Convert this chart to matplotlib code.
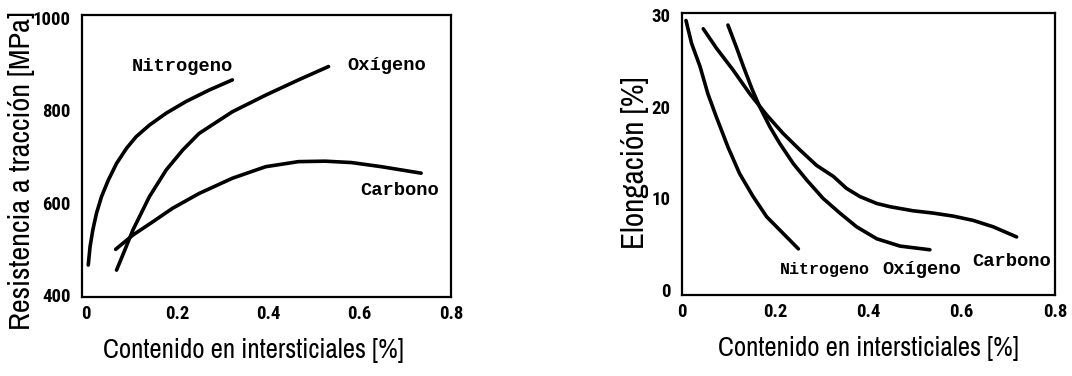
import matplotlib
matplotlib.use("Agg")
import matplotlib.pyplot as plt
from matplotlib import font_manager

# ---------------- data ----------------
# Left: tensile strength [MPa] vs interstitial content [%]
n_x_left = [0.005, 0.009, 0.015, 0.023, 0.034, 0.049, 0.067, 0.089, 0.110, 0.139, 0.176, 0.219, 0.270, 0.321]
n_y_left = [465, 505, 541, 577, 613, 649, 685, 718, 743, 768, 794, 819, 844, 866]
o_x_left = [0.067, 0.085, 0.103, 0.139, 0.176, 0.212, 0.248, 0.321, 0.394, 0.466, 0.532]
o_y_left = [454, 497, 541, 613, 671, 714, 750, 797, 833, 866, 895]
c_x_left = [0.065, 0.103, 0.147, 0.190, 0.248, 0.321, 0.394, 0.466, 0.524, 0.582, 0.648, 0.735]
c_y_left = [499, 530, 559, 588, 620, 653, 678, 689, 690, 687, 678, 664]

# Right: elongation [%] vs interstitial content [%]
n_x_right = [0.009, 0.021, 0.039, 0.056, 0.074, 0.099, 0.124, 0.153, 0.182, 0.217, 0.250]
n_y_right = [29.4, 26.9, 24.4, 21.4, 18.9, 15.6, 12.7, 10.2, 8.0, 6.2, 4.5]
o_x_right = [0.099, 0.117, 0.132, 0.150, 0.167, 0.189, 0.210, 0.239, 0.268, 0.303, 0.339, 0.375, 0.418, 0.468, 0.532]
o_y_right = [28.9, 26.5, 24.4, 22.0, 20.0, 17.8, 16.0, 13.8, 12.0, 10.0, 8.4, 6.9, 5.6, 4.8, 4.4]
c_x_right = [0.046, 0.074, 0.110, 0.146, 0.182, 0.217, 0.253, 0.289, 0.325, 0.353, 0.382, 0.418, 0.446, 0.496, 0.539, 0.582, 0.625, 0.668, 0.718]
c_y_right = [28.5, 26.4, 24.0, 21.4, 19.1, 17.1, 15.3, 13.6, 12.4, 11.1, 10.2, 9.45, 9.1, 8.65, 8.4, 8.07, 7.6, 6.9, 5.8]

x_ticks = [0, 0.2, 0.4, 0.6, 0.8]
x_ticklabels = ["0", "0.2", "0.4", "0.6", "0.8"]
yl_ticks = [400, 600, 800, 1000]
yr_ticks = [0, 10, 20, 30]

labels = ["Nitrogeno", "Oxígeno", "Carbono"]
xlabel = "Contenido en intersticiales [%]"
ylabel_left = "Resistencia a tracción [MPa]"
ylabel_right = "Elongación [%]"

# ---------------- fonts ----------------
names = {f.name for f in font_manager.fontManager.ttflist}


def pick(cands, default):
    for c in cands:
        if c in names:
            return c
    return default


narrow = pick(["Liberation Sans Narrow", "Arial Narrow", "Archivo Narrow", "PT Sans Narrow",
               "Roboto Condensed", "Fira Sans Condensed", "Pragati Narrow"], "Liberation Sans")
narrow_bold = pick(["Liberation Sans Narrow", "Arial Narrow", "Roboto Condensed", "Archivo Narrow",
                    "Fira Sans Condensed", "PT Sans Narrow"], "Liberation Sans")
tick_font = dict(family=narrow_bold, weight="bold", size=13.5)
mono = dict(family="Liberation Mono", weight="bold", size=13.5)

# ---------------- figure ----------------
fig = plt.figure(figsize=(10.72, 3.76), dpi=100)
axL = fig.add_axes([0.0765, 0.210, 0.344, 0.750])
axR = fig.add_axes([0.636, 0.215, 0.348, 0.750])

lw = 2.6
style = dict(color="black", lw=lw, solid_capstyle="round", solid_joinstyle="round")
for xs, ys in [(n_x_left, n_y_left), (o_x_left, o_y_left), (c_x_left, c_y_left)]:
    axL.plot(xs, ys, **style)
for xs, ys in [(n_x_right, n_y_right), (o_x_right, o_y_right), (c_x_right, c_y_right)]:
    axR.plot(xs, ys, **style)

axL.set_xlim(-0.0087, 0.795)
axL.set_ylim(395.7, 1006.5)
axR.set_xlim(0, 0.80)
axR.set_ylim(-0.55, 30.2)

for ax, yt in [(axL, yl_ticks), (axR, yr_ticks)]:
    ax.set_xticks(x_ticks)
    ax.set_xticklabels(x_ticklabels, fontdict=tick_font)
    ax.set_yticks(yt)
    ax.set_yticklabels([str(v) for v in yt], fontdict=tick_font)
    ax.tick_params(axis="y", length=0, pad=8)
    ax.tick_params(axis="x", length=0, pad=6)
    for s in ax.spines.values():
        s.set_linewidth(1.6)
    ax.set_xlabel(xlabel, family=narrow, size=19.3)
    ax.xaxis.label.set_va("center")

axL.xaxis.set_label_coords(0.466, -0.19)
axR.xaxis.set_label_coords(0.5, -0.19)

axL.set_ylabel(ylabel_left, family=narrow, size=21.8)
axL.yaxis.set_label_coords(-0.165, 0.45)
axL.yaxis.label.set_va("center")
axR.set_ylabel(ylabel_right, family=narrow, size=22.5)
axR.yaxis.set_label_coords(-0.125, 0.468)
axR.yaxis.label.set_va("center")

axL.text(0.211, 894, labels[0], ha="center", va="center", **mono)
axL.text(0.660, 898, labels[1], ha="center", va="center", **mono)
axL.text(0.688, 627, labels[2], ha="center", va="center", **mono)

axR.text(0.307, 2.3, labels[0], ha="center", va="center", family="Liberation Mono", weight="bold", size=12)
axR.text(0.514, 2.3, labels[1], ha="center", va="center", **mono)
axR.text(0.707, 3.1, labels[2], ha="center", va="center", **mono)

fig.savefig("out.png", dpi=100)
